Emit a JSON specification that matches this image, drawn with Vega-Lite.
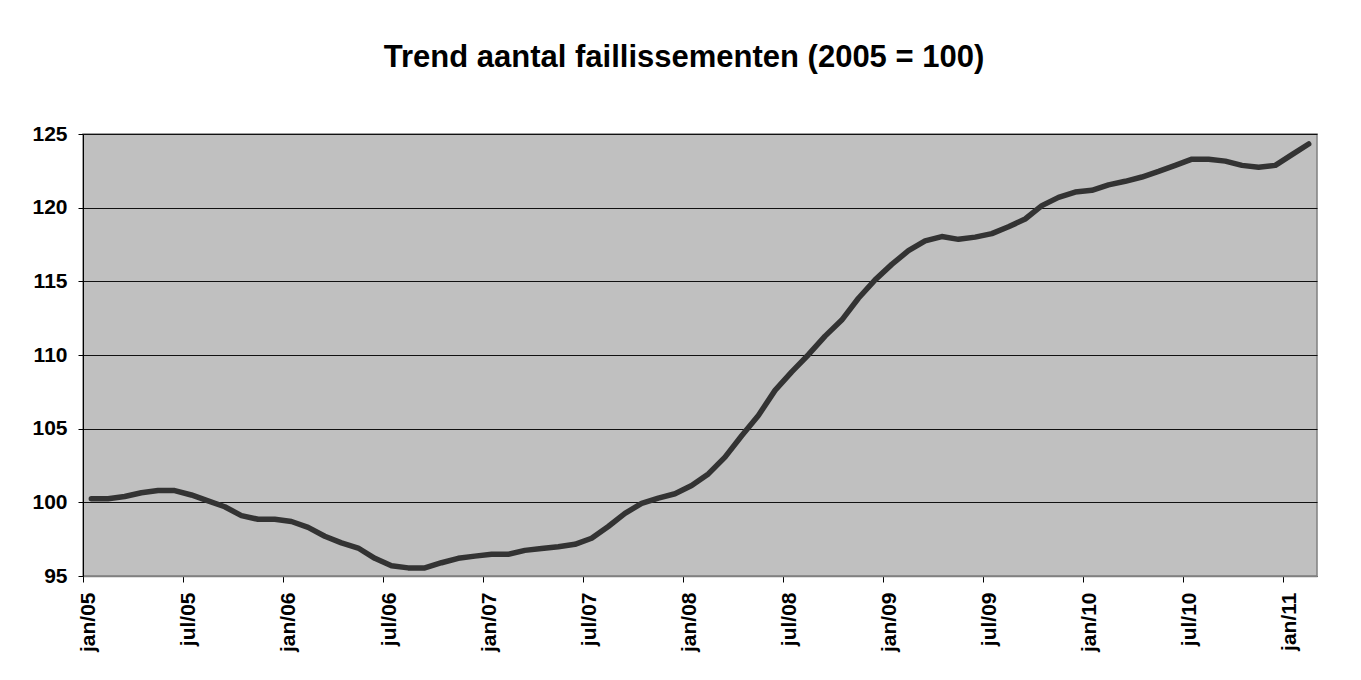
{
  "$schema": "https://vega.github.io/schema/vega-lite/v6.json",
  "width": 1234,
  "height": 442,
  "autosize": {"type": "none"},
  "padding": {"left": 83, "top": 134, "right": 44, "bottom": 104},
  "background": "white",
  "title": {
    "text": "Trend aantal faillissementen (2005 = 100)",
    "font": "Liberation Sans",
    "fontSize": 31,
    "fontWeight": "bold",
    "color": "black",
    "anchor": "middle",
    "dx": -16,
    "offset": 49
  },
  "data": {
    "values": [
      {"maand": "jan/05", "index": 100.25},
      {"maand": "feb/05", "index": 100.25},
      {"maand": "mrt/05", "index": 100.4},
      {"maand": "apr/05", "index": 100.65},
      {"maand": "mei/05", "index": 100.8},
      {"maand": "jun/05", "index": 100.8},
      {"maand": "jul/05", "index": 100.5},
      {"maand": "aug/05", "index": 100.1},
      {"maand": "sep/05", "index": 99.7},
      {"maand": "okt/05", "index": 99.1},
      {"maand": "nov/05", "index": 98.85},
      {"maand": "dec/05", "index": 98.85},
      {"maand": "jan/06", "index": 98.7},
      {"maand": "feb/06", "index": 98.3},
      {"maand": "mrt/06", "index": 97.7},
      {"maand": "apr/06", "index": 97.25},
      {"maand": "mei/06", "index": 96.9},
      {"maand": "jun/06", "index": 96.2},
      {"maand": "jul/06", "index": 95.7},
      {"maand": "aug/06", "index": 95.55},
      {"maand": "sep/06", "index": 95.55},
      {"maand": "okt/06", "index": 95.9},
      {"maand": "nov/06", "index": 96.2},
      {"maand": "dec/06", "index": 96.35},
      {"maand": "jan/07", "index": 96.47},
      {"maand": "feb/07", "index": 96.47},
      {"maand": "mrt/07", "index": 96.74},
      {"maand": "apr/07", "index": 96.86},
      {"maand": "mei/07", "index": 96.98},
      {"maand": "jun/07", "index": 97.15},
      {"maand": "jul/07", "index": 97.56},
      {"maand": "aug/07", "index": 98.36},
      {"maand": "sep/07", "index": 99.25},
      {"maand": "okt/07", "index": 99.93},
      {"maand": "nov/07", "index": 100.29},
      {"maand": "dec/07", "index": 100.58},
      {"maand": "jan/08", "index": 101.14},
      {"maand": "feb/08", "index": 101.93},
      {"maand": "mrt/08", "index": 103.07},
      {"maand": "apr/08", "index": 104.52},
      {"maand": "mei/08", "index": 105.89},
      {"maand": "jun/08", "index": 107.6},
      {"maand": "jul/08", "index": 108.86},
      {"maand": "aug/08", "index": 110.02},
      {"maand": "sep/08", "index": 111.28},
      {"maand": "okt/08", "index": 112.37},
      {"maand": "nov/08", "index": 113.85},
      {"maand": "dec/08", "index": 115.1},
      {"maand": "jan/09", "index": 116.15},
      {"maand": "feb/09", "index": 117.08},
      {"maand": "mrt/09", "index": 117.75},
      {"maand": "apr/09", "index": 118.04},
      {"maand": "mei/09", "index": 117.85},
      {"maand": "jun/09", "index": 118.0},
      {"maand": "jul/09", "index": 118.24},
      {"maand": "aug/09", "index": 118.7},
      {"maand": "sep/09", "index": 119.23},
      {"maand": "okt/09", "index": 120.14},
      {"maand": "nov/09", "index": 120.7},
      {"maand": "dec/09", "index": 121.06},
      {"maand": "jan/10", "index": 121.18},
      {"maand": "feb/10", "index": 121.55},
      {"maand": "mrt/10", "index": 121.79},
      {"maand": "apr/10", "index": 122.08},
      {"maand": "mei/10", "index": 122.46},
      {"maand": "jun/10", "index": 122.87},
      {"maand": "jul/10", "index": 123.29},
      {"maand": "aug/10", "index": 123.29},
      {"maand": "sep/10", "index": 123.16},
      {"maand": "okt/10", "index": 122.87},
      {"maand": "nov/10", "index": 122.75},
      {"maand": "dec/10", "index": 122.87},
      {"maand": "jan/11", "index": 123.6},
      {"maand": "feb/11", "index": 124.32}
    ]
  },
  "mark": {
    "type": "line",
    "color": "#333333",
    "strokeWidth": 5.5,
    "strokeJoin": "round",
    "strokeCap": "round"
  },
  "encoding": {
    "x": {
      "field": "maand",
      "type": "ordinal",
      "sort": null,
      "bandPosition": 0.5,
      "scale": {"type": "band", "paddingInner": 0, "paddingOuter": 0},
      "axis": {
        "title": null,
        "values": ["jan/05", "jul/05", "jan/06", "jul/06", "jan/07", "jul/07", "jan/08", "jul/08", "jan/09", "jul/09", "jan/10", "jul/10", "jan/11"],
        "bandPosition": 0,
        "labelOffset": -2,
        "labelAngle": -90,
        "labelAlign": "right",
        "labelBaseline": "middle",
        "labelFont": "Liberation Sans",
        "labelFontSize": 21,
        "labelFontWeight": "bold",
        "labelColor": "black",
        "labelPadding": 10,
        "tickSize": 6,
        "tickColor": "black",
        "tickWidth": 1,
        "domainColor": "#808080",
        "domainWidth": 1.5,
        "grid": false
      }
    },
    "y": {
      "field": "index",
      "type": "quantitative",
      "scale": {"domain": [95, 125], "nice": false, "zero": false},
      "axis": {
        "title": null,
        "values": [95, 100, 105, 110, 115, 120, 125],
        "labelFont": "Liberation Sans",
        "labelFontSize": 21,
        "labelFontWeight": "bold",
        "labelColor": "black",
        "labelPadding": 11,
        "tickSize": 5,
        "tickColor": "black",
        "tickWidth": 1,
        "domainColor": "black",
        "domainWidth": 1,
        "grid": true,
        "gridColor": "#111111",
        "gridWidth": 1,
        "gridOpacity": 1
      }
    }
  },
  "config": {
    "view": {"fill": "#C0C0C0", "stroke": "#808080", "strokeWidth": 1.5}
  }
}
